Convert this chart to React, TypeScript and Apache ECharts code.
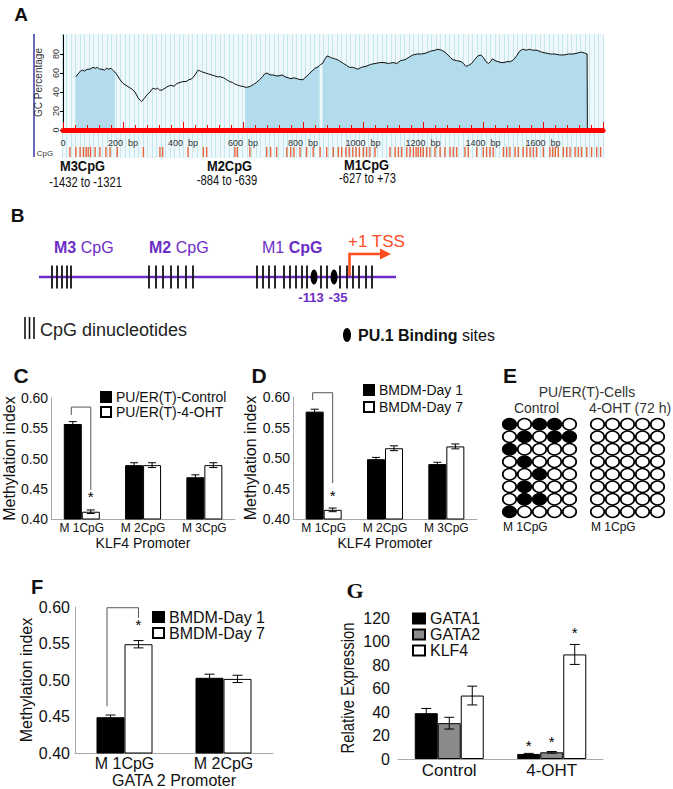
import React, { useEffect, useRef } from "react";
import * as echarts from "echarts";

const FONT = "'Liberation Sans', Arial, Helvetica, sans-serif";
const SERIF = "'Liberation Serif', 'Times New Roman', serif";
const PURPLE = "#6c2dc7";
const TSS_RED = "#ff4d1f";

// ---------------- Panel A : GC percentage profile ----------------
const gcProfile: [number, number | null][] = [
  [0, 0], [42, 0], [42.5, null],
  [43, 56], [50, 59], [58, 62], [65, 63], [72, 62], [80, 64], [90, 64], [100, 66], [108, 65], [115, 66], [122, 64], [130, 64], [138, 63], [145, 65], [152, 64], [160, 65], [166, 63], [173, 61],
  [180, 58], [190, 53], [200, 49], [210, 47], [220, 45], [230, 43], [240, 40], [250, 34], [258, 31], [262, 30], [270, 33], [280, 37], [290, 40], [300, 44], [308, 43], [315, 44], [322, 42], [330, 42], [340, 44], [350, 46], [360, 47], [370, 46], [380, 49], [390, 50], [400, 51], [410, 51], [420, 53], [430, 54], [440, 58], [450, 63], [458, 62], [465, 61], [475, 60], [485, 59], [495, 58], [505, 57], [515, 56], [525, 56], [535, 55], [545, 53], [555, 51], [565, 50], [575, 48], [585, 47], [595, 46], [600, 46],
  [607, 45], [615, 45], [625, 46], [635, 48], [645, 50], [655, 53], [665, 56], [672, 59], [680, 60], [690, 58], [700, 58], [710, 57], [720, 57], [730, 58], [740, 56], [750, 55], [760, 54], [770, 55], [780, 54], [790, 53], [800, 53], [810, 56], [820, 59], [830, 62], [840, 65], [853, 67],
  [859, 69],
  [865, 70], [872, 74], [880, 78], [888, 77], [895, 76], [905, 75], [915, 74], [925, 72], [935, 70], [945, 68], [955, 66], [965, 66], [975, 65], [983, 64], [995, 66], [1010, 67], [1025, 69], [1040, 70], [1057, 71], [1070, 71], [1085, 70], [1100, 71], [1113, 70], [1125, 73], [1140, 74], [1155, 77], [1167, 79], [1180, 80], [1195, 80], [1210, 81], [1225, 83], [1240, 84], [1250, 85], [1262, 84], [1273, 82], [1283, 79], [1292, 76], [1300, 74], [1312, 73], [1327, 72], [1335, 70], [1343, 67], [1352, 68], [1362, 70], [1372, 74], [1383, 78], [1393, 79], [1402, 76], [1410, 72], [1418, 70], [1425, 72], [1432, 75], [1440, 73], [1450, 72], [1460, 71], [1470, 71], [1480, 72], [1492, 72], [1502, 74], [1512, 78], [1522, 83], [1532, 85], [1545, 84], [1555, 85], [1565, 84], [1580, 84], [1595, 82], [1610, 81], [1625, 80], [1640, 80], [1655, 79], [1670, 79], [1685, 80], [1700, 80], [1715, 81], [1728, 82], [1738, 81], [1747, 80], [1748, 0], [1800, 0],
];
const cpgIslands: [number, number][] = [[43, 173], [607, 853], [865, 1747]];
const cpgSites: number[] = [
  23, 43, 57, 68, 77, 84, 92, 107, 123, 143, 157, 181, 268, 323, 332, 417, 468, 479, 573, 581, 623, 679, 692, 712, 746, 759, 770, 790, 812, 834, 857, 879, 901, 918, 929, 943, 954, 966, 977, 988, 1001, 1012, 1023, 1040, 1090, 1107, 1118, 1129, 1146, 1157, 1168, 1177, 1184, 1192, 1201, 1212, 1223, 1240, 1257, 1273, 1290, 1301, 1312, 1340, 1351, 1379, 1401, 1412, 1423, 1434, 1468, 1479, 1490, 1507, 1518, 1534, 1546, 1557, 1568, 1579, 1601, 1623, 1632, 1641, 1651, 1668, 1679, 1690, 1707, 1718, 1729, 1746, 1762, 1779, 1792,
];
const regionNames = ["M3CpG", "M2CpG", "M1CpG"];
const regionRanges = ["-1432 to -1321", "-884 to -639", "-627 to +73"];

// ---------------- Panel B : promoter schematic ----------------
const bCpgTicks: number[] = [
  52, 57, 62, 67, 71,
  149, 156, 163, 171, 178, 186, 193,
  257, 263, 269, 275, 284, 290, 296, 302, 307, 321, 327, 340, 347, 353, 359, 366, 372,
];
const bPu1Sites: number[] = [314, 334];
const bPu1Labels: string[] = ["-113", "-35"];

// ---------------- Panel C ----------------
const klf4Categories = ["M 1CpG", "M 2CpG", "M 3CpG"];
const cControl = [0.557, 0.489, 0.469];
const cControlErr = [0.004, 0.004, 0.004];
const cOHT = [0.412, 0.489, 0.489];
const cOHTErr = [0.003, 0.004, 0.004];
const cStars = [1, 0, 0];
const cBracket = [0, 0.585, 0.572, 0.448];

// ---------------- Panel D ----------------
const dDay1 = [0.576, 0.498, 0.49];
const dDay1Err = [0.004, 0.003, 0.003];
const dDay7 = [0.415, 0.516, 0.519];
const dDay7Err = [0.003, 0.004, 0.004];
const dStars = [1, 0, 0];
const dBracket = [0, 0.607, 0.595, 0.459];

// ---------------- Panel E ----------------
const eColumns = ["1", "2", "3", "4", "5"];
const eRows = ["1", "2", "3", "4", "5", "6", "7", "8"];
const eControl = [
  [1, 0, 1, 1, 0],
  [0, 1, 0, 1, 1],
  [1, 0, 0, 0, 0],
  [0, 1, 0, 0, 0],
  [0, 0, 1, 0, 0],
  [0, 1, 0, 0, 0],
  [0, 1, 1, 0, 0],
  [1, 0, 0, 0, 0],
];
const eOHT = [
  [0, 0, 0, 0, 0],
  [0, 0, 0, 0, 0],
  [0, 0, 0, 0, 0],
  [0, 0, 0, 0, 0],
  [0, 0, 0, 0, 0],
  [0, 0, 0, 0, 0],
  [0, 0, 0, 0, 0],
  [0, 0, 0, 0, 0],
];

// ---------------- Panel F ----------------
const gata2Categories = ["M 1CpG", "M 2CpG"];
const fDay1 = [0.449, 0.503];
const fDay1Err = [0.003, 0.005];
const fDay7 = [0.549, 0.5015];
const fDay7Err = [0.005, 0.005];
const fStars = [1, 0];
const fBracket = [0, 0.599, 0.464, 0.585];

// ---------------- Panel G ----------------
const gCategories = ["Control", "4-OHT"];
const gGata1 = [39, 4.3];
const gGata1Err = [4, 0.5];
const gGata2 = [30.5, 5.7];
const gGata2Err = [5, 0.7];
const gKlf4 = [54, 89];
const gKlf4Err = [8, 8.5];
const gStars = [0, 1];

const inIsland = (x: number) => cpgIslands.some(([a, b]) => x >= a && x <= b);

function errBar(gi: number, vals: number[], errs: number[], offset: number, cap: number, stars: number[] = [], starGap = 10) {
  return {
    type: "custom",
    xAxisIndex: gi,
    yAxisIndex: gi,
    z: 5,
    silent: true,
    data: vals.map((v, i) => [i, v, errs[i], stars[i] ? 1 : 0]),
    renderItem: (_p: any, api: any) => {
      const i = api.value(0);
      const v = api.value(1);
      const e = api.value(2);
      const s = api.value(3);
      const t = api.coord([i, v + e]);
      const b = api.coord([i, v - e]);
      const x = t[0] + offset;
      const st = { stroke: "#000", lineWidth: 1 };
      const ch: any[] = [
        { type: "line", shape: { x1: x, y1: t[1], x2: x, y2: b[1] }, style: st },
        { type: "line", shape: { x1: x - cap / 2, y1: t[1], x2: x + cap / 2, y2: t[1] }, style: st },
        { type: "line", shape: { x1: x - cap / 2, y1: b[1], x2: x + cap / 2, y2: b[1] }, style: st },
      ];
      if (s) {
        ch.push({
          type: "text",
          style: { text: "*", x, y: t[1] - starGap, align: "center", verticalAlign: "middle", fontSize: 15, fontFamily: FONT, fill: "#000" },
        });
      }
      return { type: "group", children: ch };
    },
  };
}

function bracket(gi: number, d: number[], lo: number, ro: number) {
  return {
    type: "custom",
    xAxisIndex: gi,
    yAxisIndex: gi,
    z: 4,
    silent: true,
    data: [d],
    renderItem: (_p: any, api: any) => {
      const c = api.coord([api.value(0), api.value(1)]);
      const l = api.coord([api.value(0), api.value(2)]);
      const r = api.coord([api.value(0), api.value(3)]);
      return {
        type: "polyline",
        shape: { points: [[c[0] + lo, l[1]], [c[0] + lo, c[1]], [c[0] + ro, c[1]], [c[0] + ro, r[1]]] },
        style: { stroke: "#555", lineWidth: 1, fill: null },
      };
    },
  };
}

const methAxisY = (gi: number, fontSize: number, margin: number, nameGap: number, nameSize: number) => ({
  gridIndex: gi,
  type: "value",
  min: 0.4,
  max: 0.6,
  interval: 0.05,
  axisLine: { show: true, lineStyle: { color: "#a8a8a8" } },
  axisTick: { show: false },
  splitLine: { show: false },
  axisLabel: { formatter: (v: number) => v.toFixed(2), fontSize, color: "#111", margin, fontFamily: FONT },
  name: "Methylation index",
  nameLocation: "middle",
  nameGap,
  nameTextStyle: { fontSize: nameSize, color: "#111", fontFamily: FONT },
});

const catAxisX = (gi: number, data: string[], fontSize: number, margin: number, name: string, nameGap: number, nameSize: number) => ({
  gridIndex: gi,
  type: "category",
  data,
  axisLine: { show: true, lineStyle: { color: "#a8a8a8" } },
  axisTick: { show: false },
  axisLabel: { fontSize, color: "#111", margin, fontFamily: FONT },
  name,
  nameLocation: "middle",
  nameGap,
  nameTextStyle: { fontSize: nameSize, color: "#111", fontFamily: FONT },
});

const txt = (text: string, x: number, y: number, fontSize: number, opts: any = {}) => ({
  type: "text",
  x,
  y,
  scaleX: opts.scaleX || 1,
  rotation: opts.rotation || 0,
  silent: true,
  style: {
    text,
    fontSize,
    fontFamily: opts.fontFamily || FONT,
    fontWeight: opts.fontWeight || "normal",
    fill: opts.fill || "#111",
    align: opts.align || "center",
    verticalAlign: "middle",
    rich: opts.rich,
  },
});

function buildOption(): any {
  const BLACK = { color: "#000", borderColor: "#000", borderWidth: 1 };
  const WHITE = { color: "#fff", borderColor: "#000", borderWidth: 1 };
  const GRAY = { color: "#8a8a8a", borderColor: "#000", borderWidth: 1 };

  const eData = (m: number[][]) =>
    m.flatMap((row, r) => row.map((v, c) => ({ value: [c, r], itemStyle: { color: v ? "#000" : "#fff" } })));

  const bRich = (size: number, color: string) => ({
    b: { fontWeight: "bold", fontSize: size, fill: color, fontFamily: FONT },
    r: { fontWeight: "normal", fontSize: size, fill: color, fontFamily: FONT },
  });

  const pu1Offsets = [-3, 4];

  return {
    animation: false,
    backgroundColor: "#fff",
    textStyle: { fontFamily: FONT },
    grid: [
      { left: 62, top: 34, width: 541, height: 124, show: true, backgroundColor: "#eef8fa", borderWidth: 0 },
      { left: 63, top: 35, width: 540, height: 95 },
      { left: 63, top: 147, width: 540, height: 10 },
      { left: 0, top: 266, width: 673, height: 22 },
      { left: 49, top: 398, width: 186, height: 121 },
      { left: 293, top: 397, width: 184, height: 122 },
      { left: 502, top: 418, width: 75, height: 100 },
      { left: 590, top: 418, width: 75, height: 100 },
      { left: 75, top: 607, width: 198, height: 147 },
      { left: 398, top: 618, width: 205, height: 141 },
    ],
    xAxis: [
      {
        gridIndex: 0, type: "value", min: 0, max: 1800, interval: 15,
        axisLine: { show: false }, axisTick: { show: false }, axisLabel: { show: false },
        splitLine: { show: true, lineStyle: { color: "#c6e6ee", width: 1 } },
      },
      {
        gridIndex: 1, type: "value", min: 0, max: 1800, interval: 200, z: 6,
        axisLine: { show: true, onZero: false, lineStyle: { color: "#ff0000", width: 5 } },
        axisTick: { show: true, inside: true, length: 8, lineStyle: { color: "#ff0000", width: 1 } },
        minorTick: { show: true, splitNumber: 5, length: 5, lineStyle: { color: "#ff0000", width: 1 } },
        axisLabel: {
          formatter: (v: number) => (v === 0 ? "0" : `${v}  bp`),
          fontSize: 9, color: "#333", margin: 8, showMaxLabel: false, fontFamily: FONT,
        },
        splitLine: { show: false },
      },
      { gridIndex: 2, type: "value", min: 0, max: 1800, show: false },
      { gridIndex: 3, type: "value", min: 0, max: 673, show: false },
      catAxisX(4, klf4Categories, 12, 3, "KLF4 Promoter", 17, 14),
      catAxisX(5, klf4Categories, 12, 3, "KLF4 Promoter", 17, 14),
      { gridIndex: 6, type: "category", data: eColumns, show: false },
      { gridIndex: 7, type: "category", data: eColumns, show: false },
      catAxisX(8, gata2Categories, 16, 2, "GATA 2 Promoter", 19, 16),
      {
        ...catAxisX(9, gCategories, 17, 3, "", 0, 10),
        axisLabel: { fontSize: 17, color: "#111", margin: 3, fontFamily: FONT },
      },
    ],
    yAxis: [
      { gridIndex: 0, type: "value", min: 0, max: 1, show: false },
      {
        gridIndex: 1, type: "value", min: 0, max: 100, interval: 20,
        axisLine: { show: true, lineStyle: { color: "#000", width: 1 } },
        axisTick: { show: true, length: 3, lineStyle: { color: "#000" } },
        axisLabel: { rotate: 90, fontSize: 9, color: "#333", margin: 3, showMaxLabel: false, fontFamily: FONT },
        splitLine: { show: false },
        name: "GC Percentage", nameLocation: "middle", nameGap: 16,
        nameTextStyle: { fontSize: 10, color: "#333", fontFamily: FONT },
      },
      { gridIndex: 2, type: "value", min: 0, max: 1, show: false },
      { gridIndex: 3, type: "value", min: 0, max: 1, show: false },
      methAxisY(4, 14, 3, 27, 16),
      methAxisY(5, 14, 3, 31, 16),
      { gridIndex: 6, type: "category", data: eRows, inverse: true, show: false },
      { gridIndex: 7, type: "category", data: eRows, inverse: true, show: false },
      methAxisY(8, 16, 5, 38, 16),
      {
        gridIndex: 9, type: "value", min: 0, max: 120, interval: 20,
        axisLine: { show: false }, axisTick: { show: false }, splitLine: { show: false },
        axisLabel: { fontSize: 16, color: "#111", margin: 8, fontFamily: FONT },
      },
    ],
    legend: [
      {
        left: 100, top: 390, orient: "vertical", icon: "rect", itemWidth: 10, itemHeight: 10, itemGap: 1,
        selectedMode: false, padding: 0, data: ["PU/ER(T)-Control", "PU/ER(T)-4-OHT"],
        textStyle: { fontSize: 14, lineHeight: 14, color: "#111", fontFamily: FONT },
      },
      {
        left: 363, top: 383, orient: "vertical", icon: "rect", itemWidth: 10, itemHeight: 10, itemGap: 3,
        selectedMode: false, padding: 0, data: ["BMDM-Day 1", "BMDM-Day 7"],
        textStyle: { fontSize: 14, lineHeight: 14, color: "#111", fontFamily: FONT },
      },
      {
        left: 152, top: 609, orient: "vertical", icon: "rect", itemWidth: 11, itemHeight: 10, itemGap: 0,
        selectedMode: false, padding: 0, data: ["BMDM-Day 1", "BMDM-Day 7"],
        textStyle: { fontSize: 16, lineHeight: 16, color: "#111", fontFamily: FONT },
      },
      {
        left: 412, top: 610.5, orient: "vertical", icon: "rect", itemWidth: 12, itemHeight: 10, itemGap: 0,
        selectedMode: false, padding: 0, data: ["GATA1", "GATA2", "KLF4"],
        textStyle: { fontSize: 16, lineHeight: 16, color: "#111", fontFamily: FONT },
      },
    ],
    series: [
      // A
      {
        type: "line", xAxisIndex: 1, yAxisIndex: 1, showSymbol: false, silent: true, z: 2,
        data: gcProfile.map(([x, y]) => [x, y !== null && inIsland(x) ? y : null]),
        lineStyle: { width: 0, color: "#b2dcec" },
        areaStyle: { color: "#b2dcec", opacity: 1 },
        connectNulls: false,
      },
      {
        type: "line", xAxisIndex: 1, yAxisIndex: 1, showSymbol: false, silent: true, z: 3,
        data: gcProfile,
        lineStyle: { width: 1, color: "#111" },
        connectNulls: false,
      },
      {
        type: "scatter", xAxisIndex: 2, yAxisIndex: 2, silent: true, symbol: "rect", symbolSize: [1.4, 10],
        itemStyle: { color: "#e8663d", opacity: 1 },
        data: cpgSites.map((x) => [x, 0.5]),
      },
      // B
      {
        type: "scatter", xAxisIndex: 3, yAxisIndex: 3, silent: true, symbol: "rect", symbolSize: [1.8, 23], z: 3,
        itemStyle: { color: "#111", opacity: 1 },
        data: bCpgTicks.map((x) => [x, 0.5]),
      },
      {
        type: "scatter", xAxisIndex: 3, yAxisIndex: 3, silent: true, symbol: "circle", symbolSize: [7, 15], z: 4,
        itemStyle: { color: "#000", opacity: 1 },
        data: bPu1Sites.map((x, i) => ({ value: [x, 0.5], name: bPu1Labels[i], label: { offset: [pu1Offsets[i], 0] } })),
        label: {
          show: true, position: "bottom", distance: 6, formatter: (p: any) => p.name,
          fontSize: 13, fontWeight: "bold", color: PURPLE, fontFamily: FONT,
        },
      },
      // C
      { name: "PU/ER(T)-Control", type: "bar", xAxisIndex: 4, yAxisIndex: 4, data: cControl, barWidth: 18, barGap: "0%", itemStyle: BLACK, silent: true },
      { name: "PU/ER(T)-4-OHT", type: "bar", xAxisIndex: 4, yAxisIndex: 4, data: cOHT, barWidth: 18, barGap: "0%", itemStyle: WHITE, silent: true },
      errBar(4, cControl, cControlErr, -9, 8),
      errBar(4, cOHT, cOHTErr, 9, 8, cStars, 13),
      bracket(4, cBracket, -10.5, 9),
      // D
      { name: "BMDM-Day 1", type: "bar", xAxisIndex: 5, yAxisIndex: 5, data: dDay1, barWidth: 18, barGap: "0%", itemStyle: BLACK, silent: true },
      { name: "BMDM-Day 7", type: "bar", xAxisIndex: 5, yAxisIndex: 5, data: dDay7, barWidth: 18, barGap: "0%", itemStyle: WHITE, silent: true },
      errBar(5, dDay1, dDay1Err, -9, 8),
      errBar(5, dDay7, dDay7Err, 9, 8, dStars, 13),
      bracket(5, dBracket, -11, 9),
      // E
      {
        type: "scatter", xAxisIndex: 6, yAxisIndex: 6, silent: true, symbol: "circle", symbolSize: [13.5, 11.5],
        itemStyle: { borderColor: "#000", borderWidth: 1.6, opacity: 1 }, data: eData(eControl),
      },
      {
        type: "scatter", xAxisIndex: 7, yAxisIndex: 7, silent: true, symbol: "circle", symbolSize: [13.5, 11.5],
        itemStyle: { borderColor: "#000", borderWidth: 1.6, opacity: 1 }, data: eData(eOHT),
      },
      // F
      { name: "BMDM-Day 1", type: "bar", xAxisIndex: 8, yAxisIndex: 8, data: fDay1, barWidth: 28, barGap: "0%", itemStyle: BLACK, silent: true },
      { name: "BMDM-Day 7", type: "bar", xAxisIndex: 8, yAxisIndex: 8, data: fDay7, barWidth: 28, barGap: "0%", itemStyle: WHITE, silent: true },
      errBar(8, fDay1, fDay1Err, -14, 10),
      errBar(8, fDay7, fDay7Err, 14, 10, fStars, 16),
      bracket(8, fBracket, -17.5, 14),
      // G
      { name: "GATA1", type: "bar", xAxisIndex: 9, yAxisIndex: 9, data: gGata1, barWidth: 23, barGap: "0%", itemStyle: BLACK, silent: true },
      { name: "GATA2", type: "bar", xAxisIndex: 9, yAxisIndex: 9, data: gGata2, barWidth: 23, barGap: "0%", itemStyle: GRAY, silent: true },
      { name: "KLF4", type: "bar", xAxisIndex: 9, yAxisIndex: 9, data: gKlf4, barWidth: 23, barGap: "0%", itemStyle: WHITE, silent: true },
      errBar(9, gGata1, gGata1Err, -23, 10, gStars, 8),
      errBar(9, gGata2, gGata2Err, 0, 10, gStars, 10),
      errBar(9, gKlf4, gKlf4Err, 23, 10, gStars, 12),
    ],
    graphic: [
      // panel letters
      txt("A", 21, 14, 19, { fontWeight: "bold" }),
      txt("B", 17.5, 215, 19, { fontWeight: "bold" }),
      txt("C", 21, 375, 21, { fontWeight: "bold" }),
      txt("D", 259, 375, 21, { fontWeight: "bold" }),
      txt("E", 510, 375, 21, { fontWeight: "bold" }),
      txt("F", 37, 587, 20, { fontWeight: "bold" }),
      txt("G", 355, 590, 22, { fontWeight: "bold", fontFamily: SERIF }),
      // panel A extras
      { type: "line", silent: true, shape: { x1: 34, y1: 34, x2: 34, y2: 157 }, style: { stroke: "#3a3aa8", lineWidth: 1.5 } },
      txt("CpG", 45, 153, 8, { fill: "#333" }),
      txt(regionNames[0], 82.5, 165.5, 15, { fontWeight: "bold", scaleX: 0.86 }),
      txt(regionNames[1], 229.5, 165.5, 15, { fontWeight: "bold", scaleX: 0.86 }),
      txt(regionNames[2], 366.5, 164.5, 15, { fontWeight: "bold", scaleX: 0.86 }),
      txt(regionRanges[0], 85.5, 182.5, 14, { scaleX: 0.8 }),
      txt(regionRanges[1], 227, 180.5, 14, { scaleX: 0.8 }),
      txt(regionRanges[2], 367.5, 179, 14, { scaleX: 0.8 }),
      // panel B extras
      { type: "line", silent: true, z: 1, shape: { x1: 39, y1: 277, x2: 396, y2: 277 }, style: { stroke: PURPLE, lineWidth: 2.6 } },
      txt("{b|M3} {r|CpG}", 54, 247, 16, { align: "left", rich: bRich(16, PURPLE) }),
      txt("{b|M2} {r|CpG}", 149, 247, 16, { align: "left", rich: bRich(16, PURPLE) }),
      txt("{r|M1} {b|CpG}", 262, 247, 16, { align: "left", rich: bRich(16, PURPLE) }),
      txt("+1 TSS", 348, 241, 17, { align: "left", fill: TSS_RED }),
      { type: "polyline", silent: true, shape: { points: [[349.5, 277], [349.5, 254], [381, 254]] }, style: { stroke: TSS_RED, lineWidth: 2.6, fill: null } },
      { type: "polygon", silent: true, shape: { points: [[380, 248.5], [391, 254], [380, 259.5]] }, style: { fill: TSS_RED } },
      { type: "line", silent: true, shape: { x1: 25, y1: 317, x2: 25, y2: 339 }, style: { stroke: "#111", lineWidth: 1.6 } },
      { type: "line", silent: true, shape: { x1: 29.5, y1: 317, x2: 29.5, y2: 339 }, style: { stroke: "#111", lineWidth: 1.6 } },
      { type: "line", silent: true, shape: { x1: 34, y1: 317, x2: 34, y2: 339 }, style: { stroke: "#111", lineWidth: 1.6 } },
      txt("CpG dinucleotides", 40, 330, 18, { align: "left", fill: "#222" }),
      { type: "ellipse", silent: true, shape: { cx: 347, cy: 335, rx: 4, ry: 7 }, style: { fill: "#000" } },
      txt("{b|PU.1 Binding} {r|sites}", 358, 335, 16, { align: "left", rich: bRich(16, "#111") }),
      // panel E extras
      txt("PU/ER(T)-Cells", 587, 392, 14, { fill: "#333" }),
      txt("Control", 536.5, 408, 14, { fill: "#333" }),
      txt("4-OHT (72 h)", 630, 408, 14, { fill: "#333" }),
      txt("M 1CpG", 503, 527, 12, { align: "left" }),
      txt("M 1CpG", 591, 527, 12, { align: "left" }),
      // panel G y-axis title (condensed, as in the figure)
      txt("Relative Expression", 348, 688, 19, { rotation: Math.PI / 2, scaleX: 0.78 }),
    ],
  };
}

export default function App() {
  const ref = useRef<HTMLDivElement>(null);
  useEffect(() => {
    const chart = echarts.init(ref.current!, null, { renderer: "svg" });
    chart.setOption(buildOption());
    return () => chart.dispose();
  }, []);
  return (
    <div
      ref={ref}
      style={{ position: "absolute", left: 0, top: 0, width: 673, height: 789, background: "#fff" }}
    />
  );
}
